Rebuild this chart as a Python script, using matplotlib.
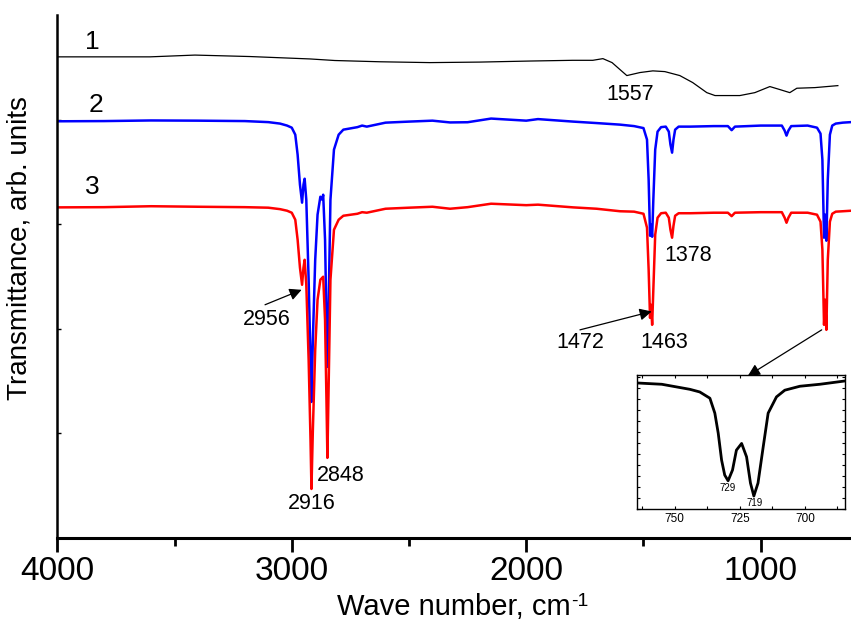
import matplotlib
matplotlib.use("Agg")
import matplotlib.pyplot as plt
from matplotlib.ticker import MultipleLocator, FixedLocator

plt.rcParams['font.family'] = ['Liberation Sans', 'DejaVu Sans']

# spectrum 1 (black)
wn1 = [4000, 3818, 3605, 3413, 3178, 2922, 2816, 2624, 2411, 2198, 1985, 1802,
       1716, 1673, 1634, 1600, 1571, 1515, 1460, 1409, 1345, 1290, 1230, 1195,
       1089, 1025, 961, 918, 876, 846, 769, 671]
t1 = [4.60, 4.60, 4.60, 4.617, 4.603, 4.58, 4.565, 4.553, 4.545, 4.55, 4.56, 4.567,
      4.567, 4.583, 4.545, 4.478, 4.421, 4.45, 4.466, 4.459, 4.421, 4.354, 4.258, 4.23,
      4.23, 4.258, 4.316, 4.287, 4.258, 4.30, 4.306, 4.325]

# spectra 2 (blue) and 3 (red) share the same wavenumber points
wn23 = [4000, 3800, 3600, 3400, 3200, 3100, 3050, 3020, 3000, 2985, 2975, 2965,
        2956, 2950, 2945, 2938, 2928, 2920, 2916, 2910, 2900, 2890, 2878, 2870,
        2866, 2858, 2852, 2848, 2843, 2835, 2820, 2800, 2780, 2720, 2700, 2680,
        2640, 2600, 2500, 2400, 2325, 2250, 2150, 2000, 1950, 1800, 1700, 1600,
        1540, 1500, 1485, 1478, 1472, 1468, 1463, 1458, 1450, 1440, 1425, 1405,
        1392, 1385, 1378, 1372, 1365, 1350, 1300, 1200, 1140, 1124, 1110, 1000,
        910, 898, 890, 882, 870, 800, 760, 745, 737, 730, 725, 720,
        714, 705, 695, 680, 650, 615]
t2 = [3.984, 3.986, 3.992, 3.990, 3.986, 3.976, 3.962, 3.943, 3.923, 3.856, 3.665, 3.378,
      3.206, 3.378, 3.435, 3.234, 2.469, 1.703, 1.301, 1.895, 2.660, 3.091, 3.263, 3.234,
      3.282, 2.852, 2.086, 1.636, 2.182, 3.234, 3.713, 3.856, 3.904, 3.928, 3.943, 3.933,
      3.952, 3.971, 3.981, 3.990, 3.973, 3.975, 4.010, 3.990, 4.005, 3.981, 3.967, 3.952,
      3.938, 3.919, 3.809, 3.426, 2.890, 2.995, 2.880, 3.234, 3.713, 3.885, 3.928, 3.933,
      3.885, 3.761, 3.684, 3.809, 3.904, 3.933, 3.933, 3.938, 3.938, 3.899, 3.933, 3.943,
      3.943, 3.895, 3.847, 3.895, 3.938, 3.943, 3.923, 3.866, 3.617, 2.871, 3.091, 2.842,
      3.426, 3.856, 3.943, 3.962, 3.971, 3.976]
t3 = [3.161, 3.163, 3.172, 3.167, 3.163, 3.158, 3.144, 3.129, 3.110, 3.043, 2.852, 2.584,
      2.421, 2.584, 2.660, 2.421, 1.703, 0.938, 0.469, 1.033, 1.799, 2.278, 2.469, 2.488,
      2.498, 2.086, 1.320, 0.766, 1.416, 2.469, 2.947, 3.043, 3.081, 3.100, 3.115, 3.110,
      3.129, 3.148, 3.158, 3.167, 3.148, 3.163, 3.196, 3.182, 3.187, 3.161, 3.148, 3.124,
      3.120, 3.100, 2.967, 2.565, 2.105, 2.230, 2.038, 2.373, 2.900, 3.062, 3.105, 3.110,
      3.062, 2.947, 2.871, 2.986, 3.081, 3.105, 3.105, 3.110, 3.110, 3.077, 3.110, 3.115,
      3.115, 3.062, 3.014, 3.062, 3.110, 3.110, 3.091, 3.024, 2.756, 2.038, 2.278, 1.990,
      2.660, 3.024, 3.100, 3.120, 3.124, 3.129]

# inset: 720 cm-1 doublet
wn_in = [764.7, 755, 744.2, 740.4, 736.5, 734.6, 733.3, 732.0, 730.8, 729.5, 727.8, 726.3,
         724.3, 722.4, 720.9, 719.6, 718.0, 716.0, 714.1, 710.9, 707.7, 701.9, 694.2, 684.6]
t_in = [11.48, 11.36, 10.9, 10.66, 10.09, 8.73, 6.91, 4.45, 3.09, 2.57, 3.55, 5.36,
        5.97, 4.75, 2.36, 1.18, 2.36, 5.66, 8.73, 10.21, 10.82, 11.18, 11.36, 11.66]

fig = plt.figure(figsize=(8.51, 6.23), dpi=100)
ax = fig.add_axes([0.0673, 0.1364, 0.9327, 0.8395])

ax.plot(wn1, t1, color='black', lw=0.9)
ax.plot(wn23, t2, color='#0000ff', lw=1.8)
ax.plot(wn23, t3, color='#ff0000', lw=1.8)

ax.set_xlim(4000, 615)
ax.set_ylim(0, 5.0)
for s in ['top', 'right']:
    ax.spines[s].set_visible(False)
ax.spines['left'].set_linewidth(1.8)
ax.spines['bottom'].set_linewidth(2.2)

ax.xaxis.set_major_locator(FixedLocator([4000, 3000, 2000, 1000]))
ax.xaxis.set_minor_locator(FixedLocator([3500, 2500, 1500]))
ax.tick_params(axis='x', which='major', direction='out', length=10, width=2,
               labelsize=24, pad=3)
ax.tick_params(axis='x', which='minor', direction='out', length=6, width=2)
ax.yaxis.set_major_locator(FixedLocator([1, 2, 3, 4]))
ax.tick_params(axis='y', direction='in', length=3, width=1, labelleft=False)

ax.set_xlabel('Wave number, cm', fontsize=21, labelpad=4)
ax.annotate('-1', xy=(1.0, 0.98), xycoords=ax.xaxis.label, fontsize=14,
            ha='left', va='top')
ax.set_ylabel('Transmittance, arb. units', fontsize=20)
ax.yaxis.set_label_coords(-0.031, 0.554)

fs = 15.5
ax.text(3852, 4.74, '1', fontsize=19, ha='center', va='center')
ax.text(3835, 4.144, '2', fontsize=19, ha='center', va='center')
ax.text(3852, 3.359, '3', fontsize=19, ha='center', va='center')
ax.text(1558, 4.239, '1557', fontsize=fs, ha='center', va='center')
ax.text(3107, 2.086, '2956', fontsize=fs, ha='center', va='center')
ax.text(2915, 0.33, '2916', fontsize=fs, ha='center', va='center')
ax.text(2790, 0.593, '2848', fontsize=fs, ha='center', va='center')
ax.text(1771, 1.866, '1472', fontsize=fs, ha='center', va='center')
ax.text(1413, 1.866, '1463', fontsize=fs, ha='center', va='center')
ax.text(1311, 2.699, '1378', fontsize=fs, ha='center', va='center')

arrow = dict(arrowstyle='-|>', color='black', lw=0.9, mutation_scale=18,
             shrinkA=0, shrinkB=0)
ax.annotate('', xy=(2958, 2.373), xytext=(3114, 2.23), arrowprops=arrow)
ax.annotate('', xy=(1465, 2.166), xytext=(1771, 1.99), arrowprops=arrow)
ax.annotate('', xy=(1055, 1.55), xytext=(740, 1.99), arrowprops=arrow)

# inset
axi = fig.add_axes([0.748, 0.183, 0.2448, 0.215])
axi.plot(wn_in, t_in, color='black', lw=2)
axi.set_xlim(764.7, 684.6)
axi.set_ylim(0, 12.2)
axi.xaxis.set_major_locator(MultipleLocator(25))
axi.xaxis.set_minor_locator(MultipleLocator(12.5))
axi.yaxis.set_major_locator(MultipleLocator(1))
axi.tick_params(which='both', direction='in', top=True, right=True, length=2,
                width=0.8, labelsize=8.5, labelleft=False, pad=3)
for s in axi.spines.values():
    s.set_linewidth(1)
axi.text(729.7, 1.94, '729', fontsize=7, ha='center', va='center')
axi.text(719.2, 0.57, '719', fontsize=7, ha='center', va='center')

fig.savefig('out.png', dpi=100)
